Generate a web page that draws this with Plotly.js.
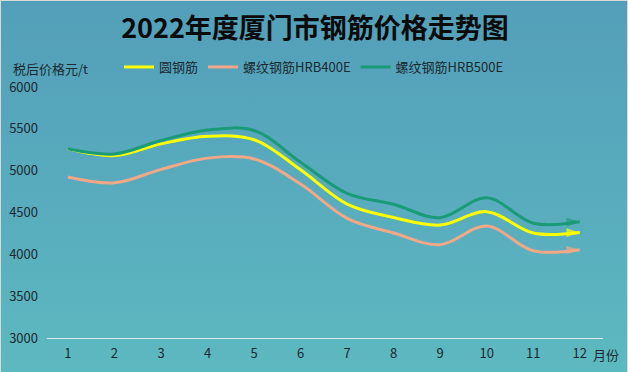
<!DOCTYPE html>
<html>
<head>
<meta charset="utf-8">
<script src="https://cdn.plot.ly/plotly-3.0.1.min.js"></script>
<style>
html,body{margin:0;padding:0;}
#chart{width:628px;height:372px;box-sizing:border-box;border:1px solid #d9d9d9;border-bottom:none;
background:linear-gradient(to bottom,#539fb9 0%,#58abbd 50%,#5db9c0 100%);}
</style>
</head>
<body>
<div id="chart"></div>
<script>
const months = [1,2,3,4,5,6,7,8,9,10,11,12];
const monthLabels = ['1','2','3','4','5','6','7','8','9','10','11','12'];
const seriesNames = ['圆钢筋','螺纹钢筋HRB400E','螺纹钢筋HRB500E'];
const roundBar = [5260,5180,5320,5410,5370,5010,4600,4440,4350,4510,4255,4262];
const hrb400e  = [4925,4855,5015,5150,5140,4840,4430,4255,4115,4338,4042,4055];
const hrb500e  = [5262,5200,5360,5485,5480,5100,4730,4598,4438,4677,4372,4390];
const colors = ['#ffff00','#f2a886','#1a9b78'];
const allSeries = [roundBar, hrb400e, hrb500e];

const font = "'Noto Sans CJK SC', 'Noto Sans', sans-serif";
const txt = '#1b2930';

const traces = [];
allSeries.forEach((vals, i) => {
  traces.push({
    x: months, y: vals, name: seriesNames[i], type: 'scatter', mode: 'lines',
    line: {color: colors[i], width: 3, shape: 'spline', smoothing: 1},
    hoverinfo: 'skip'
  });
});
allSeries.forEach((vals, i) => {
  const n = vals.length;
  traces.push({
    x: months.slice(n-2), y: vals.slice(n-2), type: 'scatter', mode: 'markers',
    showlegend: false, hoverinfo: 'skip',
    marker: {symbol: 'arrow', angleref: 'previous', size: [0, 14], color: colors[i], line: {width: 0}}
  });
});

const layout = {
  width: 628, height: 372,
  margin: {l: 46, r: 26, t: 86, b: 35},
  paper_bgcolor: 'rgba(0,0,0,0)', plot_bgcolor: 'rgba(0,0,0,0)',
  font: {family: font, size: 13, color: txt},
  title: {text: '<b>2022年度厦门市钢筋价格走势图</b>', x: 0.5, xref: 'container', xanchor: 'center',
          y: 0.925, yref: 'container', yanchor: 'middle',
          font: {family: font, size: 27, color: '#0a0a0a'}},
  showlegend: true,
  legend: {orientation: 'h', x: 118/628, xref: 'container', xanchor: 'left',
           y: 1 - 66/372, yref: 'container', yanchor: 'middle',
           font: {family: font, size: 13, color: txt}, bgcolor: 'rgba(0,0,0,0)',
           traceorder: 'normal', itemwidth: 30},
  xaxis: {type: 'linear', range: [0.55, 12.5], tickvals: months, ticktext: monthLabels,
          showgrid: false, zeroline: false, showline: true, linecolor: '#d6ecef', linewidth: 1,
          ticks: '', ticklabelstandoff: 3, tickfont: {family: font, size: 13, color: txt}, fixedrange: true},
  yaxis: {range: [3000, 6000], dtick: 500, tick0: 3000, showgrid: false, zeroline: false, showline: false,
          ticks: '', ticklabelstandoff: 8, tickfont: {family: font, size: 13, color: txt}, fixedrange: true},
  annotations: [
    {text: '税后价格元/t', xref: 'paper', yref: 'paper', x: -35/556, y: 1 + 19/251,
     xanchor: 'left', yanchor: 'middle', showarrow: false, borderpad: 0,
     font: {family: font, size: 13, color: txt}},
    {text: '月份', xref: 'paper', yref: 'paper', x: 1.0 - 12/556, y: -16/251,
     xanchor: 'left', yanchor: 'middle', showarrow: false, font: {family: font, size: 13, color: txt}}
  ]
};

Plotly.newPlot('chart', traces, layout, {displayModeBar: false, staticPlot: true});
</script>
</body>
</html>
